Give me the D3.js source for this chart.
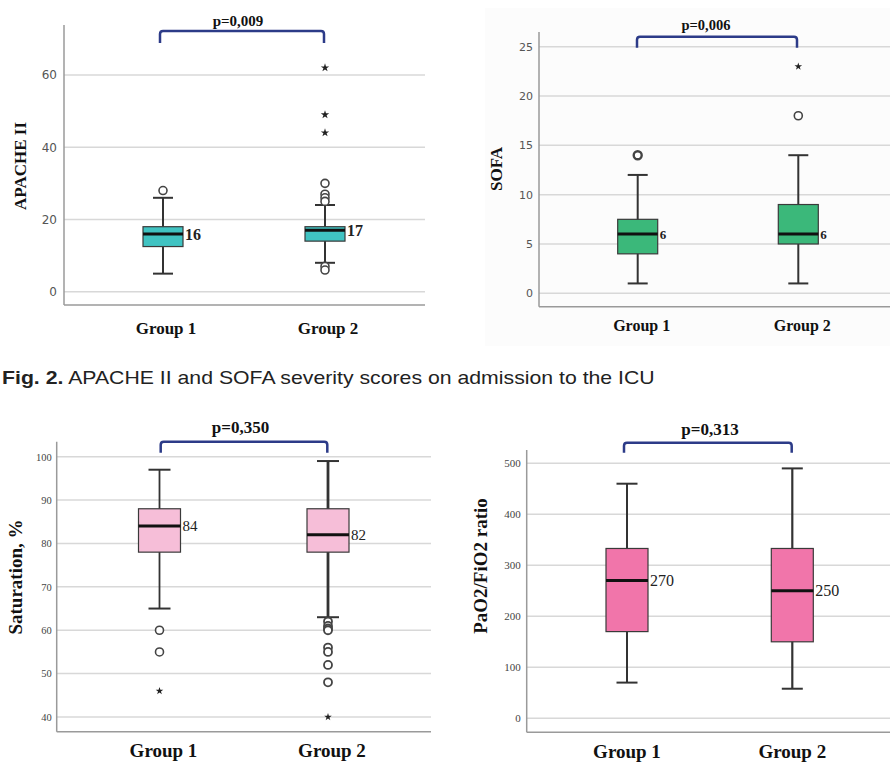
<!DOCTYPE html>
<html>
<head>
<meta charset="utf-8">
<script src="https://cdn.jsdelivr.net/npm/d3@7/dist/d3.min.js"></script>
<style>
  html, body { margin: 0; padding: 0; background: #fff; }
  svg { display: block; }
</style>
</head>
<body>
<svg id="chart" width="890" height="762"></svg>
<script>
// ---------------- DATA ----------------
const groups = ["Group 1", "Group 2"];

// APACHE II
const apacheTicks = [0, 20, 40, 60];
const apacheBoxes = [
  { min: 5, q1: 12.5, median: 16, q3: 18, max: 26 },
  { min: 8, q1: 14, median: 17, q3: 18, max: 24 }
];
const apacheCircles = [[28], [30, 27, 26, 25, 7, 6]];
const apacheStars = [[], [62, 49, 44]];
const apacheMedianLabels = ["16", "17"];
const apacheP = "p=0,009";

// SOFA
const sofaTicks = [0, 5, 10, 15, 20, 25];
const sofaBoxes = [
  { min: 1, q1: 4, median: 6, q3: 7.5, max: 12 },
  { min: 1, q1: 5, median: 6, q3: 9, max: 14 }
];
const sofaCircles = [[14], [18]];
const sofaStars = [[], [23]];
const sofaMedianLabels = ["6", "6"];
const sofaP = "p=0,006";

// Saturation
const satTicks = [40, 50, 60, 70, 80, 90, 100];
const satBoxes = [
  { min: 65, q1: 78, median: 84, q3: 88, max: 97 },
  { min: 63, q1: 78, median: 82, q3: 88, max: 99 }
];
const satCircles = [[60, 55], [62, 61, 60.4, 60, 56, 55, 52, 48]];
const satStars = [[46], [40]];
const satMedianLabels = ["84", "82"];
const satP = "p=0,350";

// PaO2/FiO2
const pfTicks = [0, 100, 200, 300, 400, 500];
const pfBoxes = [
  { min: 70, q1: 170, median: 270, q3: 333, max: 460 },
  { min: 58, q1: 150, median: 250, q3: 333, max: 490 }
];
const pfCircles = [[], []];
const pfStars = [[], []];
const pfMedianLabels = ["270", "250"];
const pfP = "p=0,313";

const captionBold = "Fig. 2.";
const captionRest = " APACHE II and SOFA severity scores on admission to the ICU";

// ---------------- DRAW ----------------
const svg = d3.select("#chart");
const SERIF = "'Liberation Serif', 'Times New Roman', serif";
const SANS = "'DejaVu Sans', 'Liberation Sans', sans-serif";

// very faint background of the SOFA panel
svg.append("rect").attr("x", 485).attr("y", 8).attr("width", 405).attr("height", 338)
  .attr("fill", "#fcfcfc");

function drawPanel(cfg, d) {
  const g = svg.append("g");
  const y = d3.scaleLinear().domain(cfg.domain).range(cfg.range);
  const x = d3.scalePoint().domain(groups).range(cfg.centers);

  // gridlines
  g.selectAll(".grid").data(d.ticks).join("line")
    .attr("x1", cfg.left).attr("x2", cfg.right)
    .attr("y1", v => y(v)).attr("y2", v => y(v))
    .attr("stroke", "#d8d8d8").attr("stroke-width", 1.5);

  // tick labels via d3.axisLeft
  const axis = d3.axisLeft(y).tickValues(d.ticks).tickSize(0).tickPadding(cfg.tickPad);
  const ag = g.append("g").attr("transform", `translate(${cfg.left},0)`).call(axis);
  ag.select(".domain").remove();
  ag.selectAll("text").attr("font-family", cfg.tickFont).attr("font-size", cfg.tickSize)
    .attr("fill", cfg.tickColor);

  // axis lines
  g.append("line").attr("x1", cfg.left).attr("x2", cfg.left)
    .attr("y1", cfg.axisTop).attr("y2", cfg.axisBottom)
    .attr("stroke", "#9a9a9a").attr("stroke-width", 1.5);
  g.append("line").attr("x1", cfg.left).attr("x2", cfg.right)
    .attr("y1", cfg.axisBottom).attr("y2", cfg.axisBottom)
    .attr("stroke", "#9a9a9a").attr("stroke-width", 1.5);

  d.boxes.forEach((b, i) => {
    const cx = x(groups[i]);
    const bw = cfg.boxW, cw = cfg.capW;
    g.append("line").attr("x1", cx).attr("x2", cx).attr("y1", y(b.min)).attr("y2", y(b.max))
      .attr("stroke", "#333").attr("stroke-width", cfg.whiskerW[i]);
    [b.min, b.max].forEach(v => {
      g.append("line").attr("x1", cx - cw / 2).attr("x2", cx + cw / 2)
        .attr("y1", y(v)).attr("y2", y(v)).attr("stroke", "#333").attr("stroke-width", 2);
    });
    g.append("rect").attr("x", cx - bw / 2).attr("width", bw)
      .attr("y", y(b.q3)).attr("height", y(b.q1) - y(b.q3))
      .attr("fill", cfg.color).attr("stroke", "#3a3a3a").attr("stroke-width", 1.2);
    g.append("line").attr("x1", cx - bw / 2).attr("x2", cx + bw / 2)
      .attr("y1", y(b.median)).attr("y2", y(b.median))
      .attr("stroke", "#111").attr("stroke-width", 3);
    g.append("text").attr("x", cx + bw / 2 + 2).attr("y", y(b.median)).attr("dy", "0.35em")
      .attr("font-family", SERIF).attr("font-size", cfg.medSize)
      .attr("font-weight", cfg.medWeight).attr("fill", "#222")
      .text(d.medianLabels[i]);

    g.selectAll(null).data(d.circles[i]).join("circle")
      .attr("cx", cx).attr("cy", v => y(v)).attr("r", cfg.circR)
      .attr("fill", "#fff").attr("stroke", "#444").attr("stroke-width", cfg.circSW[i]);
    g.selectAll(null).data(d.stars[i]).join("path")
      .attr("d", d3.symbol().type(d3.symbolStar).size(cfg.starSize))
      .attr("transform", v => `translate(${cx},${y(v)})`)
      .attr("fill", "#222");

    g.append("text").attr("x", cx + cfg.groupDx).attr("y", cfg.groupY).attr("text-anchor", "middle")
      .attr("font-family", SERIF).attr("font-weight", "bold").attr("font-size", cfg.groupSize)
      .attr("fill", "#111").text(groups[i]);
  });

  // bracket
  const [bx1, bx2] = cfg.bracketX, bt = cfg.bracketTop, bb = cfg.bracketBottom, r = 3;
  g.append("path")
    .attr("d", `M${bx1},${bb} L${bx1},${bt + r} Q${bx1},${bt} ${bx1 + r},${bt} L${bx2 - r},${bt} Q${bx2},${bt} ${bx2},${bt + r} L${bx2},${bb}`)
    .attr("fill", "none").attr("stroke", "#2c3b88").attr("stroke-width", 2.5);
  g.append("text").attr("x", cfg.pX).attr("y", cfg.pY).attr("text-anchor", "middle")
    .attr("font-family", SERIF).attr("font-weight", "bold").attr("font-size", cfg.pSize)
    .attr("fill", "#111").text(d.p);

  g.append("text").attr("transform", `translate(${cfg.ylabX},${cfg.ylabY}) rotate(-90)`)
    .attr("text-anchor", "middle").attr("font-family", SERIF).attr("font-weight", "bold")
    .attr("font-size", cfg.ylabSize).attr("fill", "#111").text(cfg.ylab);
}

drawPanel({
  domain: [0, 60], range: [291.7, 75], left: 64, right: 425, axisTop: 25, axisBottom: 305,
  centers: [163, 325], boxW: 40, capW: 20, whiskerW: [2, 2], color: "#40c3c2",
  tickFont: SANS, tickSize: 12, tickColor: "#555", tickPad: 7,
  medSize: 16, medWeight: "bold", circR: 4, circSW: [1.6, 1.6], starSize: 22,
  groupY: 334, groupSize: 17, groupDx: 3,
  bracketX: [160, 324], bracketTop: 31, bracketBottom: 43, pX: 238, pY: 26, pSize: 15,
  ylabX: 26, ylabY: 166, ylabSize: 17, ylab: "APACHE II"
}, { ticks: apacheTicks, boxes: apacheBoxes, circles: apacheCircles, stars: apacheStars, medianLabels: apacheMedianLabels, p: apacheP });

drawPanel({
  domain: [0, 25], range: [293.3, 46.7], left: 539, right: 890, axisTop: 32, axisBottom: 306.7,
  centers: [637.7, 798.3], boxW: 40, capW: 20, whiskerW: [2, 2], color: "#3bb87a",
  tickFont: SANS, tickSize: 11, tickColor: "#555", tickPad: 6,
  medSize: 13, medWeight: "bold", circR: 4, circSW: [2.4, 1.6], starSize: 18,
  groupY: 331, groupSize: 16, groupDx: 4,
  bracketX: [637, 797], bracketTop: 36.7, bracketBottom: 47.7, pX: 706, pY: 30, pSize: 14.5,
  ylabX: 502, ylabY: 169, ylabSize: 17, ylab: "SOFA"
}, { ticks: sofaTicks, boxes: sofaBoxes, circles: sofaCircles, stars: sofaStars, medianLabels: sofaMedianLabels, p: sofaP });

drawPanel({
  domain: [40, 100], range: [717, 456.7], left: 56.7, right: 431, axisTop: 441.7, axisBottom: 731.7,
  centers: [159.5, 328], boxW: 42, capW: 22, whiskerW: [1.8, 2.8], color: "#f6bed8",
  tickFont: SERIF, tickSize: 10.5, tickColor: "#444", tickPad: 5,
  medSize: 15, medWeight: "normal", circR: 4, circSW: [1.6, 1.8], starSize: 18,
  groupY: 757, groupSize: 19, groupDx: 4,
  bracketX: [160.7, 327.3], bracketTop: 441.7, bracketBottom: 452.7, pX: 240.5, pY: 433, pSize: 17,
  ylabX: 22, ylabY: 577, ylabSize: 19, ylab: "Saturation, %"
}, { ticks: satTicks, boxes: satBoxes, circles: satCircles, stars: satStars, medianLabels: satMedianLabels, p: satP });

drawPanel({
  domain: [0, 500], range: [718.3, 463.3], left: 526.7, right: 890, axisTop: 450, axisBottom: 732.3,
  centers: [627, 792.3], boxW: 42, capW: 21, whiskerW: [2, 2.2], color: "#f175aa",
  tickFont: SERIF, tickSize: 11, tickColor: "#444", tickPad: 6,
  medSize: 16, medWeight: "normal", circR: 4, circSW: [1.6, 1.6], starSize: 18,
  groupY: 758, groupSize: 19, groupDx: 0,
  bracketX: [624, 791.7], bracketTop: 442.7, bracketBottom: 452.7, pX: 710, pY: 435, pSize: 17,
  ylabX: 487, ylabY: 566, ylabSize: 19, ylab: "PaO2/FiO2 ratio"
}, { ticks: pfTicks, boxes: pfBoxes, circles: pfCircles, stars: pfStars, medianLabels: pfMedianLabels, p: pfP });

// caption: one text element, horizontally scaled to the reference width
const capG = svg.append("g");
const cap = capG.append("text").attr("x", 0).attr("y", 0)
  .attr("font-family", "'Liberation Sans', Arial, sans-serif").attr("font-size", 18)
  .attr("fill", "#222");
cap.append("tspan").attr("font-weight", "bold").text(captionBold);
cap.append("tspan").text(captionRest);
const natural = cap.node().getComputedTextLength();
const sx = 653 / natural;
capG.attr("transform", `translate(2,384) scale(${sx},1)`);
</script>
</body>
</html>
